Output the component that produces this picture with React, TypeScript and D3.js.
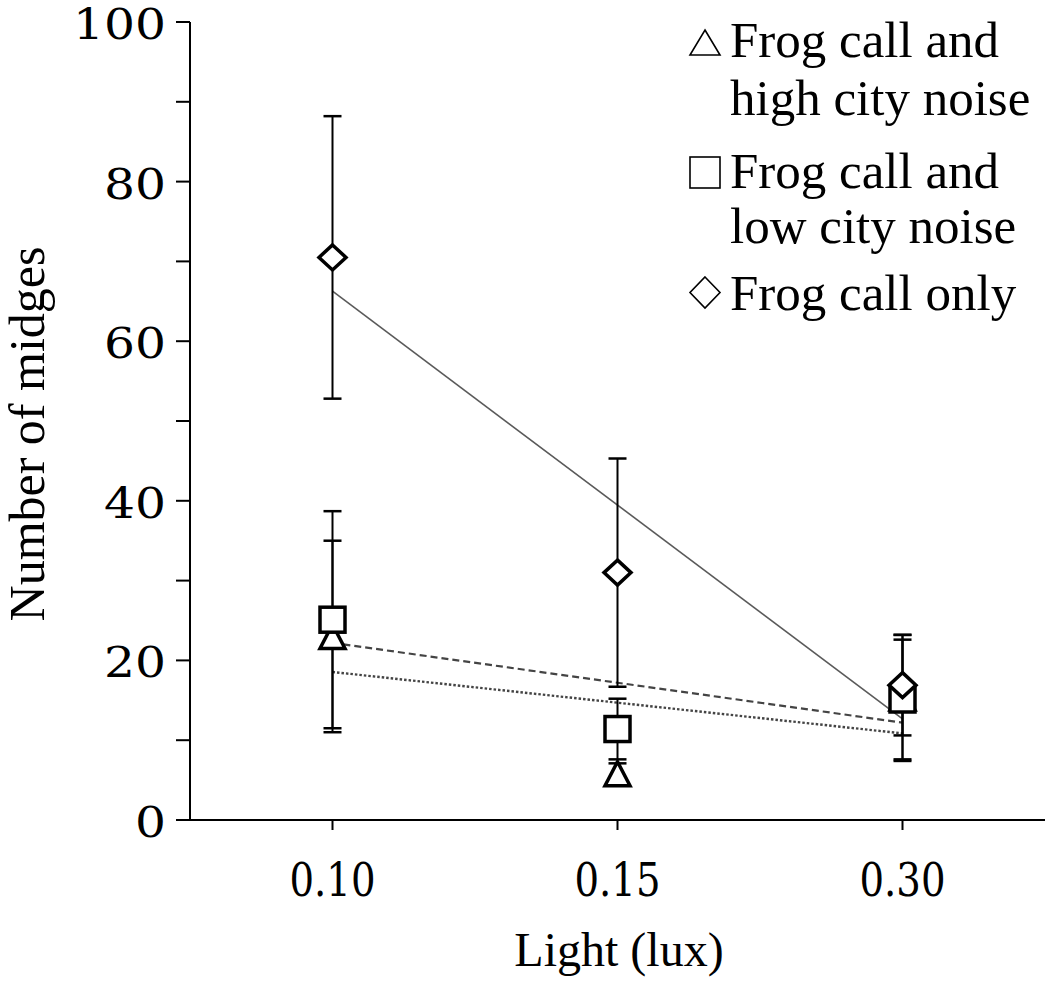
import React from "react";
import * as d3 from "d3";

const categories = ["0.10", "0.15", "0.30"];
const highNoise = [23.0, 5.8, 15.3];
const highNoiseErr = [12.0, 1.3, 7.9];
const lowNoise = [25.1, 11.4, 15.1];
const lowNoiseErr = [13.6, 3.8, 7.5];
const frogOnly = [70.5, 31.0, 16.9];
const frogOnlyErr = [17.7, 14.3, 6.3];
const yTicks = [0, 10, 20, 30, 40, 50, 60, 70, 80, 90, 100];
const yLabels = [0, 20, 40, 60, 80, 100];
const legendHigh = ["Frog call and", "high city noise"];
const legendLow = ["Frog call and", "low city noise"];
const legendOnly = ["Frog call only"];

const W = 1050;
const H = 986;
const TXT = "'Liberation Serif', 'Times New Roman', serif";
const NUM = "'DejaVu Serif', serif";

function linFit(vals: number[]) {
  const xs = vals.map((_, i) => i + 1);
  const mx = d3.mean(xs) as number;
  const my = d3.mean(vals) as number;
  let num = 0;
  let den = 0;
  xs.forEach((x, i) => {
    num += (x - mx) * (vals[i] - my);
    den += (x - mx) * (x - mx);
  });
  const b = num / den;
  return (x: number) => my + b * (x - mx);
}

export default function App() {
  const x = d3.scalePoint<string>().domain(categories).range([190, 1045]).padding(0.5);
  const y = d3.scaleLinear().domain([0, 100]).range([820, 22]);

  const series = [
    { key: "tri", vals: highNoise, err: highNoiseErr, dash: "2.5,2", width: 2.4, color: "#444" },
    { key: "sq", vals: lowNoise, err: lowNoiseErr, dash: "7,4", width: 2.2, color: "#444" },
    { key: "dia", vals: frogOnly, err: frogOnlyErr, dash: undefined, width: 1.6, color: "#5a5a5a" },
  ];

  const trend = (vals: number[]) => {
    const f = linFit(vals);
    const line = d3
      .line<number>()
      .x((i) => x(categories[i]) as number)
      .y((i) => y(f(i + 1)));
    return line([0, categories.length - 1]) as string;
  };

  const marker = (key: string, cx: number, cy: number) => {
    if (key === "tri") {
      const p = d3.path();
      p.moveTo(cx, cy - 12);
      p.lineTo(cx + 12.5, cy + 12);
      p.lineTo(cx - 12.5, cy + 12);
      p.closePath();
      return <path d={p.toString()} fill="#fff" stroke="#000" strokeWidth={3.5} strokeLinejoin="miter" />;
    }
    if (key === "sq") {
      return <rect x={cx - 12.5} y={cy - 12.5} width={25} height={25} fill="#fff" stroke="#000" strokeWidth={3.5} />;
    }
    const p = d3.path();
    p.moveTo(cx, cy - 12.5);
    p.lineTo(cx + 13.5, cy);
    p.lineTo(cx, cy + 12.5);
    p.lineTo(cx - 13.5, cy);
    p.closePath();
    return <path d={p.toString()} fill="#fff" stroke="#000" strokeWidth={3.5} strokeLinejoin="miter" />;
  };

  const legendItems = [
    { key: "tri", lines: legendHigh, baselines: [57, 115] },
    { key: "sq", lines: legendLow, baselines: [188, 243] },
    { key: "dia", lines: legendOnly, baselines: [310] },
  ];

  const legendSymbol = (key: string) => {
    if (key === "tri") {
      const p = d3.path();
      p.moveTo(705, 30);
      p.lineTo(720, 55);
      p.lineTo(690, 55);
      p.closePath();
      return <path d={p.toString()} fill="none" stroke="#000" strokeWidth={1.6} />;
    }
    if (key === "sq") {
      return <rect x={690} y={157} width={30} height={31} fill="none" stroke="#000" strokeWidth={1.6} />;
    }
    const p = d3.path();
    p.moveTo(705, 277);
    p.lineTo(720, 292.5);
    p.lineTo(705, 308);
    p.lineTo(690, 292.5);
    p.closePath();
    return <path d={p.toString()} fill="none" stroke="#000" strokeWidth={1.6} />;
  };

  return (
    <svg width={W} height={H} style={{ position: "absolute", left: 0, top: 0, background: "#fff" }}>
      <rect x={0} y={0} width={W} height={H} fill="#fff" />
      {/* axes */}
      <line x1={190} y1={y(100)} x2={190} y2={y(0)} stroke="#000" strokeWidth={2} />
      <line x1={176} y1={y(0)} x2={1045} y2={y(0)} stroke="#000" strokeWidth={2} />
      {yTicks.map((t) => (
        <line key={"yt" + t} x1={176} x2={190} y1={y(t)} y2={y(t)} stroke="#000" strokeWidth={2} />
      ))}
      {yLabels.map((t) => (
        <text
          key={"yl" + t}
          x={166}
          y={y(t) + 17}
          textAnchor="end"
          fontFamily={NUM}
          fontSize={42}
          textLength={String(t).length * 31}
          lengthAdjust="spacingAndGlyphs"
          fill="#000"
        >
          {t}
        </text>
      ))}
      {categories.map((c) => (
        <g key={"xt" + c}>
          <line x1={x(c)} x2={x(c)} y1={820} y2={830} stroke="#000" strokeWidth={2} />
          <text
            x={x(c)}
            y={896}
            textAnchor="middle"
            fontFamily={NUM}
            fontSize={46}
            textLength={86}
            lengthAdjust="spacingAndGlyphs"
            fill="#000"
          >
            {c}
          </text>
        </g>
      ))}
      <text x={619} y={966} textAnchor="middle" fontFamily={TXT} fontSize={48} fill="#000">
        Light (lux)
      </text>
      <text
        transform={`translate(44, 434) rotate(-90)`}
        textAnchor="middle"
        fontFamily={TXT}
        fontSize={50}
        fill="#000"
      >
        Number of midges
      </text>

      {/* trend lines */}
      {series.map((s) => (
        <path
          key={"tr" + s.key}
          d={trend(s.vals)}
          fill="none"
          stroke={s.color}
          strokeWidth={s.width}
          strokeDasharray={s.dash}
        />
      ))}

      {/* error bars */}
      {series.map((s) =>
        s.vals.map((v, i) => {
          const cx = x(categories[i]) as number;
          const top = y(v + s.err[i]);
          const bot = y(v - s.err[i]);
          return (
            <g key={"eb" + s.key + i}>
              <line x1={cx} x2={cx} y1={top} y2={bot} stroke="#000" strokeWidth={2} />
              <line x1={cx - 9} x2={cx + 9} y1={top} y2={top} stroke="#000" strokeWidth={2.5} />
              <line x1={cx - 9} x2={cx + 9} y1={bot} y2={bot} stroke="#000" strokeWidth={2.5} />
            </g>
          );
        })
      )}

      {/* markers */}
      {series.map((s) =>
        s.vals.map((v, i) => (
          <g key={"mk" + s.key + i}>{marker(s.key, x(categories[i]) as number, y(v))}</g>
        ))
      )}

      {/* legend */}
      {legendItems.map((it) => (
        <g key={"lg" + it.key}>
          {legendSymbol(it.key)}
          {it.lines.map((ln, j) => (
            <text key={j} x={730} y={it.baselines[j]} fontFamily={TXT} fontSize={51} fill="#000">
              {ln}
            </text>
          ))}
        </g>
      ))}
    </svg>
  );
}
